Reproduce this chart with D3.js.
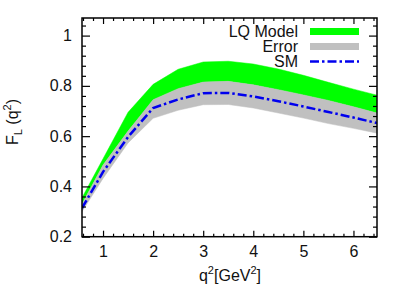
<!DOCTYPE html>
<html>
<head>
<meta charset="utf-8">
<script src="https://cdn.jsdelivr.net/npm/d3@7/dist/d3.min.js"></script>
<style>
  body { margin: 0; background: #fff; }
  text { font-family: "Liberation Sans", Arial, sans-serif; }
</style>
</head>
<body>
<div id="chart"></div>
<script>
// data
var q2       = [0.58, 1.0, 1.5, 2.0, 2.5, 3.0, 3.5, 4.0, 4.5, 5.0, 5.5, 6.0, 6.47];
var lqUpper  = [0.355, 0.510, 0.695, 0.806, 0.866, 0.895, 0.898, 0.887, 0.867, 0.842, 0.814, 0.787, 0.763];
var lqLower  = [0.330, 0.485, 0.620, 0.745, 0.789, 0.815, 0.818, 0.804, 0.785, 0.764, 0.742, 0.717, 0.692];
var errUpper = [0.330, 0.485, 0.620, 0.745, 0.789, 0.815, 0.818, 0.804, 0.785, 0.764, 0.742, 0.717, 0.692];
var errLower = [0.300, 0.432, 0.573, 0.671, 0.703, 0.725, 0.726, 0.712, 0.692, 0.672, 0.650, 0.631, 0.612];
var sm       = [0.314, 0.458, 0.597, 0.712, 0.746, 0.771, 0.772, 0.758, 0.739, 0.718, 0.696, 0.674, 0.652];

var xTicks = [1, 2, 3, 4, 5, 6];
var yTicks = [0.2, 0.4, 0.6, 0.8, 1];
var legendLabels = ["LQ Model", "Error", "SM"];

var width = 409, height = 300
  , pL = 82, pR = 377, pT = 18, pB = 236.7
  , fs = 16

var svg = d3.select("#chart").append("svg").attr("width", width).attr("height", height)

var x = d3.scaleLinear().domain([0.58, 6.47]).range([pL, pR])
  , y = d3.scaleLinear().domain([0.2, 1.07]).range([pB, pT])

var xMinor = d3.range(0.6, 6.47, 0.2).filter(function (v) { return Math.abs(v - Math.round(v)) > 1e-6; })
  , yMinor = d3.range(0.24, 1.07, 0.04).filter(function (v) { return Math.abs(v * 5 - Math.round(v * 5)) > 1e-6; })

svg.append("clipPath").attr("id", "clip").append("rect")
    .attr("x", pL).attr("y", pT).attr("width", pR - pL).attr("height", pB - pT)

var band = function (hi, lo) {
    return d3.area().x(function (d, i) { return x(q2[i]); })
        .y0(function (d, i) { return y(lo[i]); })
        .y1(function (d, i) { return y(hi[i]); })(q2);
}

var g = svg.append("g").attr("clip-path", "url(#clip)")
g.append("path").attr("d", band(lqUpper, lqLower)).attr("fill", "#00ff00").attr("stroke", "#00ff00").attr("stroke-width", 0.5)
g.append("path").attr("d", band(errUpper, errLower)).attr("fill", "#c0c0c0").attr("stroke", "#c0c0c0").attr("stroke-width", 0.5)
g.append("path")
    .attr("d", d3.line().x(function (d, i) { return x(q2[i]); }).y(function (d) { return y(d); })(sm))
    .attr("fill", "none").attr("stroke", "#0000ee").attr("stroke-width", 2.5)
    .attr("stroke-dasharray", "9,3,2.5,3")

// axes, ticks pointing inwards on all four sides
var axisStyle = function (sel) {
    sel.select(".domain").remove();
    sel.selectAll("line").attr("stroke", "#000").attr("stroke-width", 1.2);
    sel.selectAll("text").attr("font-size", fs).attr("fill", "#111");
}

svg.append("g").attr("transform", "translate(0," + pB + ")")
    .call(d3.axisBottom(x).tickValues(xTicks).tickSize(-6).tickPadding(9).tickFormat(d3.format("d"))).call(axisStyle)
svg.append("g").attr("transform", "translate(0," + pB + ")")
    .call(d3.axisBottom(x).tickValues(xMinor).tickSize(-3).tickFormat("")).call(axisStyle)
svg.append("g").attr("transform", "translate(0," + pT + ")")
    .call(d3.axisTop(x).tickValues(xTicks).tickSize(-6).tickFormat("")).call(axisStyle)
svg.append("g").attr("transform", "translate(0," + pT + ")")
    .call(d3.axisTop(x).tickValues(xMinor).tickSize(-3).tickFormat("")).call(axisStyle)

svg.append("g").attr("transform", "translate(" + pL + ",0)")
    .call(d3.axisLeft(y).tickValues(yTicks).tickSize(-8).tickPadding(10).tickFormat(d3.format("~g"))).call(axisStyle)
svg.append("g").attr("transform", "translate(" + pL + ",0)")
    .call(d3.axisLeft(y).tickValues(yMinor).tickSize(-4).tickFormat("")).call(axisStyle)
svg.append("g").attr("transform", "translate(" + pR + ",0)")
    .call(d3.axisRight(y).tickValues(yTicks).tickSize(-8).tickFormat("")).call(axisStyle)
svg.append("g").attr("transform", "translate(" + pR + ",0)")
    .call(d3.axisRight(y).tickValues(yMinor).tickSize(-4).tickFormat("")).call(axisStyle)

svg.append("rect").attr("x", pL).attr("y", pT).attr("width", pR - pL).attr("height", pB - pT)
    .attr("fill", "none").attr("stroke", "#000").attr("stroke-width", 1.5)

// axis titles
var xt = svg.append("text").attr("x", 230).attr("y", 281)
    .attr("text-anchor", "middle").attr("font-size", fs).attr("fill", "#111")
xt.append("tspan").text("q")
xt.append("tspan").attr("dy", -7).attr("font-size", 11).text("2")
xt.append("tspan").attr("dy", 7).text("[GeV")
xt.append("tspan").attr("dy", -7).attr("font-size", 11).text("2")
xt.append("tspan").attr("dy", 7).text("]")

var yt = svg.append("text").attr("transform", "translate(18,122) rotate(-90)")
    .attr("text-anchor", "middle").attr("font-size", fs).attr("fill", "#111")
yt.append("tspan").text("F")
yt.append("tspan").attr("dy", 4).attr("font-size", 11).text("L")
yt.append("tspan").attr("dy", -4).text(" (q")
yt.append("tspan").attr("dy", -7).attr("font-size", 11).text("2")
yt.append("tspan").attr("dy", 7).text(")")

// legend
var lg = svg.append("g")
legendLabels.forEach(function (name, i) {
    var cy = 31.5 + i * 15;
    lg.append("text").attr("x", 298).attr("y", cy + 5.5).attr("text-anchor", "end")
        .attr("font-size", fs).attr("fill", "#111").text(name);
    if (i < 2) {
        lg.append("rect").attr("x", 310).attr("y", cy - 3.5).attr("width", 49).attr("height", 7)
            .attr("fill", i == 0 ? "#00ff00" : "#c0c0c0");
    } else {
        lg.append("line").attr("x1", 310).attr("x2", 359).attr("y1", cy).attr("y2", cy)
            .attr("stroke", "#0000ee").attr("stroke-width", 2.5).attr("stroke-dasharray", "9,3,2.5,3");
    }
});
</script>
</body>
</html>
